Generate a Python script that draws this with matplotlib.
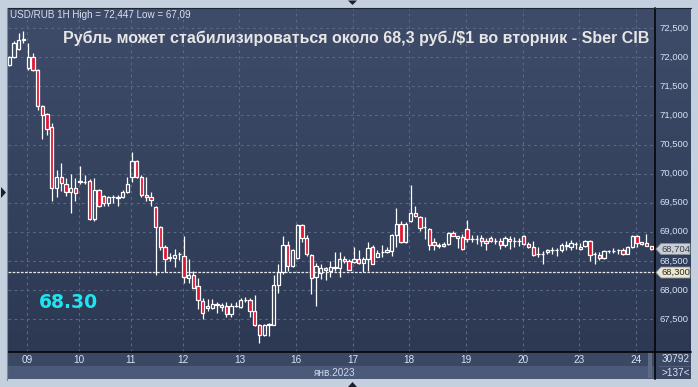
import matplotlib
matplotlib.use("Agg")
import matplotlib.pyplot as plt
import numpy as np
from matplotlib.patches import Rectangle, Polygon
from matplotlib.colors import LinearSegmentedColormap
from matplotlib.transforms import blended_transform_factory

# ---------------- data (USD/RUB, 1H candles) ----------------
opens = [71.86, 72.01, 72.14, 72.30, 71.82, 72.00, 71.79, 71.16, 71.02, 70.80,
         69.75, 69.95, 69.83, 69.69, 69.76, 69.86, 69.85, 69.88, 69.22, 69.71,
         69.62, 69.50, 69.59, 69.59, 69.59, 69.69, 69.95, 70.22, 69.95, 69.64,
         69.59, 69.42, 69.09, 68.73, 68.56, 68.55, 68.61, 68.59, 68.21, 68.26,
         68.07, 67.81, 67.72, 67.69, 67.75, 67.71, 67.72, 67.59, 67.72, 67.71,
         67.83, 67.83, 67.64, 67.40, 67.23, 67.40, 67.40, 68.09, 68.30, 68.78,
         68.41, 68.55, 69.11, 68.90, 68.60, 68.22, 68.29, 68.37, 68.33, 68.38,
         68.37, 68.54, 68.50, 68.48, 68.53, 68.46, 68.53, 68.73, 68.57, 68.65,
         68.65, 68.67, 68.94, 69.14, 68.82, 69.18, 69.33, 69.25, 69.08, 69.05,
         68.83, 68.76, 68.79, 68.79, 68.98, 68.92, 68.91, 69.05, 68.88, 68.87,
         68.89, 68.85, 68.90, 68.85, 68.85, 68.78, 68.88, 68.85, 68.84, 68.93,
         68.79, 68.73, 68.62, 68.62, 68.65, 68.68, 68.68, 68.69, 68.78, 68.74,
         68.79, 68.70, 68.75, 68.85, 68.62, 68.60, 68.55, 68.67, 68.67, 68.68,
         68.68, 68.62, 68.73, 68.92, 68.82, 68.81, 68.75]
highs = [72.02, 72.28, 72.42, 72.447, 72.24, 72.07, 71.80, 71.18, 71.05, 70.87,
         70.06, 70.18, 69.93, 70.00, 69.93, 70.13, 69.97, 69.90, 69.93, 69.74,
         69.64, 69.61, 69.64, 69.63, 69.72, 69.94, 70.38, 70.24, 69.97, 69.95,
         69.68, 69.45, 69.10, 68.78, 68.63, 68.71, 68.65, 68.92, 68.53, 68.32,
         68.21, 67.86, 67.84, 67.84, 67.80, 67.77, 67.80, 67.78, 67.80, 67.86,
         67.88, 67.86, 67.91, 67.41, 67.42, 67.44, 68.26, 68.45, 68.92, 68.85,
         68.71, 69.14, 69.14, 68.94, 68.62, 68.46, 68.45, 68.40, 68.50, 68.66,
         68.65, 68.59, 68.53, 68.73, 68.68, 68.56, 68.83, 68.78, 68.68, 68.78,
         68.73, 68.96, 69.41, 69.19, 69.17, 69.80, 69.44, 69.27, 69.26, 69.07,
         68.89, 68.80, 68.83, 68.99, 69.02, 68.93, 68.97, 69.21, 68.95, 68.95,
         68.95, 68.89, 68.92, 68.89, 68.89, 68.92, 68.92, 68.91, 68.89, 68.95,
         68.82, 68.85, 68.74, 68.67, 68.71, 68.73, 68.72, 68.80, 68.85, 68.86,
         68.82, 68.81, 68.86, 68.86, 68.66, 68.65, 68.69, 68.69, 68.72, 68.71,
         68.72, 68.75, 68.95, 68.95, 68.83, 68.97, 68.76]
lows = [71.85, 71.99, 72.12, 72.24, 71.78, 71.76, 71.09, 70.59, 70.66, 69.53,
        69.59, 69.70, 69.61, 69.32, 69.53, 69.83, 69.82, 69.21, 69.19, 69.43,
        69.45, 69.44, 69.49, 69.44, 69.58, 69.67, 69.86, 69.93, 69.59, 69.53,
        69.45, 68.26, 68.69, 68.30, 68.49, 68.39, 68.52, 68.12, 68.12, 68.03,
        67.67, 67.50, 67.64, 67.67, 67.61, 67.63, 67.53, 67.53, 67.70, 67.69,
        67.79, 67.54, 67.38, 67.09, 67.20, 67.21, 67.39, 67.94, 68.28, 68.33,
        68.39, 68.53, 68.82, 68.58, 67.93, 67.73, 68.19, 68.17, 68.23, 68.33,
        68.22, 68.47, 68.34, 68.46, 68.45, 68.30, 68.33, 68.44, 68.56, 68.57,
        68.64, 68.59, 68.73, 68.80, 68.80, 69.17, 69.25, 69.02, 68.88, 68.69,
        68.68, 68.72, 68.74, 68.78, 68.92, 68.72, 68.69, 68.83, 68.82, 68.79,
        68.76, 68.69, 68.82, 68.79, 68.71, 68.73, 68.71, 68.73, 68.76, 68.78,
        68.72, 68.59, 68.56, 68.45, 68.62, 68.62, 68.59, 68.65, 68.68, 68.68,
        68.71, 68.68, 68.73, 68.49, 68.45, 68.52, 68.54, 68.63, 68.63, 68.62,
        68.60, 68.62, 68.72, 68.73, 68.78, 68.75, 68.69]
closes = [72.00, 72.25, 72.30, 72.32, 72.01, 71.78, 71.16, 71.00, 70.76, 69.75,
          69.95, 69.84, 69.69, 69.76, 69.66, 69.87, 69.86, 69.22, 69.71, 69.45,
          69.50, 69.60, 69.60, 69.58, 69.69, 69.83, 70.22, 69.95, 69.64, 69.59,
          69.54, 69.09, 68.73, 68.53, 68.55, 68.60, 68.62, 68.22, 68.25, 68.04,
          67.83, 67.60, 67.69, 67.76, 67.74, 67.74, 67.59, 67.72, 67.73, 67.83,
          67.83, 67.64, 67.40, 67.23, 67.40, 67.41, 68.09, 68.30, 68.78, 68.41,
          68.69, 69.11, 68.90, 68.61, 68.21, 68.41, 68.37, 68.34, 68.39, 68.39,
          68.54, 68.49, 68.35, 68.54, 68.46, 68.54, 68.72, 68.45, 68.64, 68.65,
          68.68, 68.94, 69.14, 68.82, 69.13, 69.33, 69.27, 69.07, 69.08, 68.78,
          68.78, 68.78, 68.76, 68.98, 68.93, 68.90, 68.70, 68.87, 68.88, 68.87,
          68.84, 68.81, 68.85, 68.85, 68.78, 68.89, 68.85, 68.85, 68.84, 68.79,
          68.73, 68.60, 68.62, 68.62, 68.69, 68.69, 68.68, 68.78, 68.75, 68.80,
          68.79, 68.74, 68.85, 68.60, 68.62, 68.55, 68.67, 68.67, 68.67, 68.68,
          68.62, 68.73, 68.92, 68.80, 68.79, 68.76, 68.704]

day_labels = ["09", "10", "11", "12", "13", "16", "17", "18", "19", "20", "23", "24"]
day_starts = [4, 15, 26, 37, 49, 61, 73, 85, 97, 109, 121, 133]
price_ticks = [67.5, 68.0, 68.5, 69.0, 69.5, 70.0, 70.5, 71.0, 71.5, 72.0, 72.5]
price_labels = ["67,500", "68,000", "68,500", "69,000", "69,500", "70,000",
                "70,500", "71,000", "71,500", "72,000", "72,500"]
month_label = "янв.2023"
level = 68.30
last_price = 68.704
header = "USD/RUB 1H High = 72,447 Low = 67,09"
title = "Рубль может стабилизироваться около 68,3 руб./$1 во вторник - Sber CIB"
bars_total = "30792"
bars_visible = ">137<"

# ---------------- figure ----------------
W, H = 698, 387
fig = plt.figure(figsize=(W / 100, H / 100), dpi=100)
fig.patch.set_facecolor("#c4d0de")
FONT = "Liberation Sans"


def fx(px):
    return px / W


def fy(py):
    return 1 - py / H


def frect(x0, y0, x1, y1, **kw):
    fig.add_artist(Rectangle((fx(x0), fy(y1)), fx(x1) - fx(x0), fy(y0) - fy(y1),
                             transform=fig.transFigure, zorder=0.5, **kw))


# gradient background of chart + right price panel
bg = fig.add_axes([fx(8), fy(352), fx(691) - fx(8), fy(8) - fy(352)])
bg.set_zorder(0)
cmap = LinearSegmentedColormap.from_list("bg", ["#3e4c6a", "#2d3953"])
bg.imshow(np.linspace(0, 1, 256).reshape(-1, 1), aspect="auto", cmap=cmap,
          extent=[0, 1, 0, 1])
bg.set_axis_off()

# bottom strips
frect(8, 352, 691, 366, facecolor="#3b4864", edgecolor="none")
frect(8, 366, 691, 379, facecolor="#4b5a78", edgecolor="none")
frect(655, 352, 691, 379, facecolor="#3b4864", edgecolor="none")
frect(648, 353, 652, 378, facecolor="#5d6a84", edgecolor="none")

# main axes
ax = fig.add_axes([fx(8), fy(352), fx(655) - fx(8), fy(8) - fy(352)])
ax.set_zorder(5)
ax.set_facecolor("none")
x0_px, step_px = 9.3, 4.72
ax.set_xlim((8 - x0_px) / step_px, (655 - x0_px) / step_px)
ax.set_ylim(66.933, 72.848)
for s in ax.spines.values():
    s.set_visible(False)
ax.set_xticks([])
ax.set_yticks([])

# grid
grid_kw = dict(color="#596884", lw=0.8, linestyle=(0, (2.5, 3.0)), zorder=1)
for p in price_ticks:
    ax.axhline(p, **grid_kw)
for d in day_starts:
    ax.axvline(d - 0.25, **grid_kw)

# level line
ax.axhline(level, color="#e6e6e6", lw=0.9, linestyle=(0, (2.2, 1.1)), zorder=2)

# candles
red = "#e3122f"
xs = np.arange(len(opens))
for i in xs:
    o, h, l, c = opens[i], highs[i], lows[i], closes[i]
    top, bot = max(o, c), min(o, c)
    ax.vlines(i, top, h, color="white", lw=0.9, zorder=3)
    ax.vlines(i, l, bot, color="white", lw=0.9, zorder=3)
    fc = red if c < o else "none"
    ax.bar(i, top - bot, bottom=bot, width=0.7, facecolor=fc,
           edgecolor="white", linewidth=0.9, zorder=4)

# texts
fig.text(fx(10), fy(15), header, fontsize=7.1, color="#d8e0ee",
         family=FONT, va="center", ha="left", zorder=6)
fig.text(fx(63), fy(38.5), title, fontsize=11.5, color="#e6e6e6",
         family=FONT, weight="bold", va="center", ha="left", zorder=6)
fig.text(fx(39), fy(302), f"{level:.2f}", fontsize=13.5, color="#1de6f2",
         family="DejaVu Sans", weight="bold", va="center", ha="left", zorder=6)

# right price labels
tick_col = "#d6e2f6"
for p, lab in zip(price_ticks, price_labels):
    ax.annotate(lab, xy=(1, p), xycoords=("axes fraction", "data"),
                xytext=(4, 0), textcoords="offset pixels", fontsize=6.8,
                color=tick_col, family=FONT, va="center", ha="left",
                annotation_clip=False)

# price tags
bt = blended_transform_factory(fig.transFigure, ax.transData)
hh = 5.5 / 58.16


def tag(price, fc, tc, text):
    poly = Polygon([(fx(656), price), (fx(661), price + hh), (fx(690), price + hh),
                    (fx(690), price - hh), (fx(661), price - hh)], closed=True,
                   transform=bt, facecolor=fc, edgecolor="#8a8f98", lw=0.6,
                   zorder=10, clip_on=False)
    fig.add_artist(poly)
    t = fig.text(fx(676), price, text, transform=bt, fontsize=6.8, color=tc,
                 family=FONT, va="center", ha="center", zorder=11)
    return t


tag(last_price, "#c9ced6", "#3a3f48", f"{last_price:.3f}".replace(".", ","))
tag(level, "#ebe8cf", "#2a2a2a", f"{level:.3f}".replace(".", ","))

# date labels
for d, lab in zip(day_starts, day_labels):
    ax.annotate(lab, xy=(d - 0.25, 0), xycoords=("data", "axes fraction"),
                xytext=(0, -8), textcoords="offset pixels", fontsize=7.2,
                color=tick_col, family=FONT, va="center", ha="center",
                annotation_clip=False)
fig.text(fx(335), fy(372.5), month_label, fontsize=7.2, color="#cdd8ec",
         family=FONT, va="center", ha="center", zorder=6)

# bars counter box
fig.text(fx(676), fy(359), bars_total, fontsize=7.2, color="#d6e2f6",
         family=FONT, va="center", ha="center", zorder=6)
fig.text(fx(676), fy(372.5), bars_visible, fontsize=7.2, color="#d6e2f6",
         family=FONT, va="center", ha="center", zorder=6)
fig.add_artist(plt.Line2D([fx(659), fx(690)], [fy(366), fy(366)],
                          transform=fig.transFigure, color="#56647e", lw=0.6))

# frame lines
fig.add_artist(plt.Line2D([fx(655), fx(655)], [fy(8), fy(379)],
                          transform=fig.transFigure, color="black", lw=1.1, zorder=6))
fig.add_artist(plt.Line2D([fx(8), fx(691)], [fy(352), fy(352)],
                          transform=fig.transFigure, color="black", lw=1.1, zorder=6))
fig.add_artist(plt.Line2D([fx(8), fx(691)], [fy(8), fy(8)],
                          transform=fig.transFigure, color="#1e2638", lw=0.8, zorder=6))
fig.add_artist(plt.Line2D([fx(7.5), fx(7.5)], [fy(8), fy(380)],
                          transform=fig.transFigure, color="#7d8aa0", lw=0.8, zorder=6))

# markers (triangles)
tri_kw = dict(transform=fig.transFigure, facecolor="#1b2030", edgecolor="none", zorder=6)
fig.add_artist(Polygon([(fx(348), fy(0.5)), (fx(357), fy(0.5)), (fx(352.5), fy(5))], **tri_kw))
fig.add_artist(Polygon([(fx(348), fy(387)), (fx(357), fy(387)), (fx(352.5), fy(382))], **tri_kw))
fig.add_artist(Polygon([(fx(1), fy(187)), (fx(1), fy(198)), (fx(6), fy(192.5))], **tri_kw))

fig.savefig("out.png", dpi=100, facecolor=fig.get_facecolor())
